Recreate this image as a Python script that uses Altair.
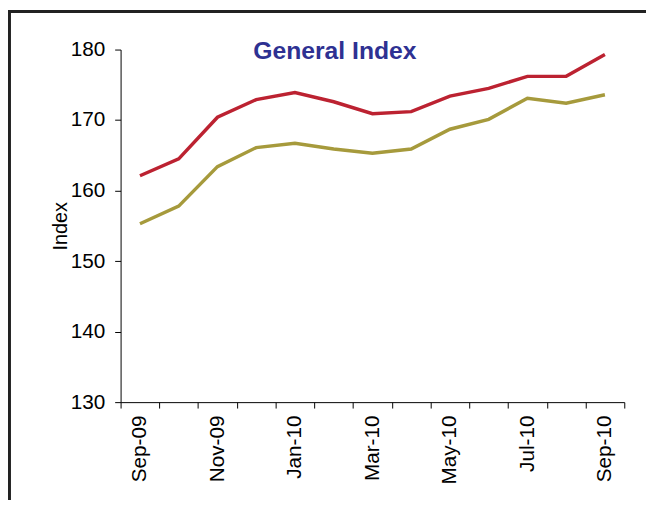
import altair as alt
import pandas as pd

months = ["Sep-09", "Oct-09", "Nov-09", "Dec-09", "Jan-10", "Feb-10", "Mar-10",
          "Apr-10", "May-10", "Jun-10", "Jul-10", "Aug-10", "Sep-10"]
shown_labels = ["Sep-09", "Nov-09", "Jan-10", "Mar-10", "May-10", "Jul-10", "Sep-10"]
series_red = [162.1, 164.5, 170.4, 172.9, 173.9, 172.6, 170.9, 171.2, 173.4, 174.5, 176.2, 176.2, 179.3]
series_olive = [155.3, 157.8, 163.4, 166.1, 166.7, 165.9, 165.3, 165.9, 168.7, 170.1, 173.1, 172.4, 173.6]
series_names = ["Series 1", "Series 2"]
series_colors = ["#BC2231", "#A69A3C"]
y_ticks = [130, 140, 150, 160, 170, 180]
title_text = "General Index"

rows = []
for name, vals in zip(series_names, [series_red, series_olive]):
    for m, v in zip(months, vals):
        rows.append({"Month": m, "Value": v, "Series": name})
df = pd.DataFrame(rows)

label_list = ",".join("'" + s + "'" for s in shown_labels)

lines = alt.Chart(df).mark_line(strokeWidth=3.5).encode(
    x=alt.X("Month:N", sort=months,
            scale=alt.Scale(paddingInner=0, paddingOuter=0),
            axis=alt.Axis(title=None, labelAngle=270, labelFontSize=21, labelColor="black",
                          tickBand="extent", tickSize=6, tickColor="black",
                          domainColor="black", labelPadding=7,
                          labelExpr="indexof([" + label_list + "], datum.value) >= 0 ? datum.label : ''")),
    y=alt.Y("Value:Q",
            scale=alt.Scale(domain=[130, 180], nice=False, zero=False),
            axis=alt.Axis(title="Index", values=y_ticks, grid=False, labelFontSize=21,
                          labelColor="black", tickSize=6, tickColor="black",
                          domainColor="black", labelPadding=10,
                          titleFontSize=20, titleFontWeight="normal", titleColor="black",
                          titleX=-51)),
    color=alt.Color("Series:N", scale=alt.Scale(domain=series_names, range=series_colors),
                    legend=None),
)

frame = alt.Chart(pd.DataFrame({"f": [0]})).mark_rect(
    fill=None, stroke="#222222", strokeWidth=3, clip=False
).encode(
    x=alt.value(-112.5), x2=alt.value(700), y=alt.value(-38.5), y2=alt.value(600)
)

title = alt.Chart(pd.DataFrame({"t": [title_text]})).mark_text(
    fontSize=25, fontWeight="bold", color="#2E3192", baseline="alphabetic",
    align="center"
).encode(text="t:N", x=alt.value(217), y=alt.value(10))

chart = alt.layer(frame, lines, title).properties(
    width=510, height=357,
    padding={"left": 114, "top": 39, "right": 22, "bottom": 96},
    autosize=alt.AutoSizeParams(type="none"),
).configure(font="Liberation Sans").configure_view(stroke=None)

chart.save("out.html", embed_options={"renderer": "svg", "actions": False})
